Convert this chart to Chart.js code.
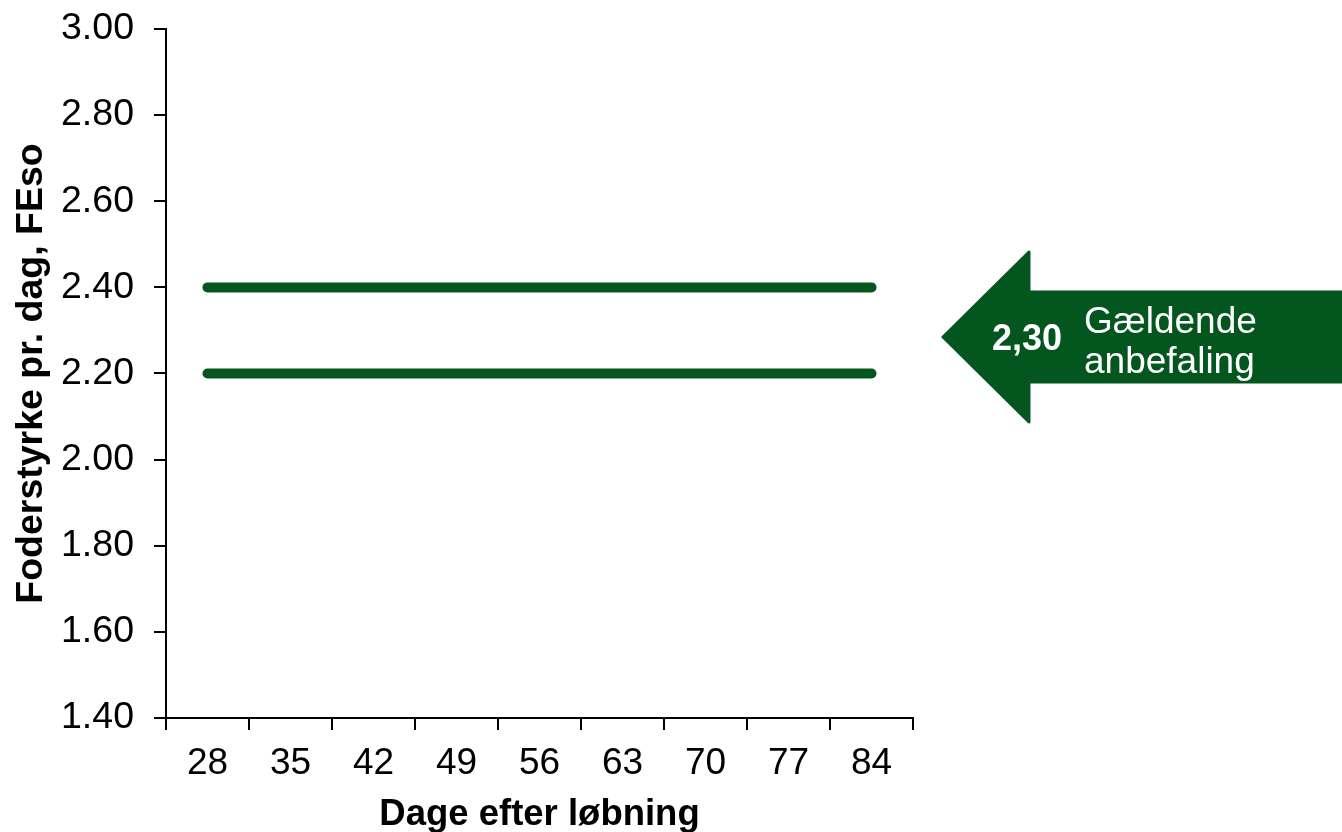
<!DOCTYPE html>
<html>
<head>
<meta charset="utf-8">
<script src="https://cdn.jsdelivr.net/npm/chart.js@4"></script>
<style>
html,body{margin:0;padding:0;background:#fff;}
#wrap{width:1342px;height:832px;position:relative;}
</style>
</head>
<body>
<div id="wrap"><canvas id="c" width="1342" height="832"></canvas></div>
<script>
const categories = ['28','35','42','49','56','63','70','77','84'];
const upperSeries = [2.40,2.40,2.40,2.40,2.40,2.40,2.40,2.40,2.40];
const lowerSeries = [2.20,2.20,2.20,2.20,2.20,2.20,2.20,2.20,2.20];
const yMin = 1.40, yMax = 3.00, yStep = 0.20;
const xTitle = 'Dage efter løbning';
const yTitle = 'Foderstyrke pr. dag, FEso';
const arrowValue = '2,30';
const arrowText = ['Gældende', 'anbefaling'];

const GREEN = '#04561f';
const FONT = '"Liberation Sans", Arial, sans-serif';

const arrowPlugin = {
  id: 'arrowNote',
  afterDraw(chart) {
    const ctx = chart.ctx;
    ctx.save();
    ctx.fillStyle = GREEN;
    ctx.strokeStyle = GREEN;
    ctx.lineJoin = 'round';
    ctx.lineWidth = 3;
    ctx.beginPath();
    ctx.moveTo(943, 337);
    ctx.lineTo(1029, 252);
    ctx.lineTo(1029, 292);
    ctx.lineTo(1342, 292);
    ctx.lineTo(1342, 382);
    ctx.lineTo(1029, 382);
    ctx.lineTo(1029, 422);
    ctx.closePath();
    ctx.fill();
    ctx.stroke();
    ctx.fillStyle = '#ffffff';
    ctx.font = 'bold 36px ' + FONT;
    ctx.textAlign = 'center';
    ctx.textBaseline = 'alphabetic';
    ctx.fillText(arrowValue, 1027, 350);
    ctx.font = '37px ' + FONT;
    ctx.textAlign = 'left';
    ctx.fillText(arrowText[0], 1084, 333);
    ctx.fillText(arrowText[1], 1084, 373);
    ctx.restore();
  }
};

new Chart(document.getElementById('c'), {
  type: 'line',
  data: {
    labels: categories,
    datasets: [
      { data: upperSeries, borderColor: GREEN, backgroundColor: GREEN, borderWidth: 10, borderCapStyle: 'round', pointRadius: 0, tension: 0 },
      { data: lowerSeries, borderColor: GREEN, backgroundColor: GREEN, borderWidth: 10, borderCapStyle: 'round', pointRadius: 0, tension: 0 }
    ]
  },
  options: {
    responsive: false,
    animation: false,
    devicePixelRatio: 1,
    layout: { padding: { left: 0, right: 429, top: 29, bottom: 0 } },
    plugins: { legend: { display: false }, tooltip: { enabled: false }, title: { display: false } },
    scales: {
      x: {
        type: 'category',
        offset: true,
        grid: { offset: true, drawOnChartArea: false, drawTicks: true, tickLength: 12, color: '#000', lineWidth: 2 },
        border: { display: true, color: '#000', width: 2 },
        ticks: { color: '#000', font: { family: FONT, size: 37 }, padding: 12, maxRotation: 0, autoSkip: false },
        title: { display: true, text: xTitle, color: '#000', font: { family: FONT, size: 36.5, weight: 'bold', lineHeight: 0.92 }, padding: { top: 0, bottom: 0 } },
        afterFit(s) { s.height = 114; s.paddingLeft = 0; s.paddingRight = 0; }
      },
      y: {
        min: yMin, max: yMax,
        grid: { drawOnChartArea: false, drawTicks: true, tickLength: 12, color: '#000', lineWidth: 2 },
        border: { display: true, color: '#000', width: 2 },
        ticks: { stepSize: yStep, color: '#000', font: { family: FONT, size: 37.5 }, padding: 20, callback: v => v.toFixed(2) },
        title: { display: true, text: yTitle, color: '#000', font: { family: FONT, size: 37.5, weight: 'bold', lineHeight: 1.2 }, padding: { top: 9, bottom: 0 } },
        afterFit(s) { s.width = 166; s.paddingTop = 0; s.paddingBottom = 0; }
      }
    }
  },
  plugins: [arrowPlugin]
});
</script>
</body>
</html>
